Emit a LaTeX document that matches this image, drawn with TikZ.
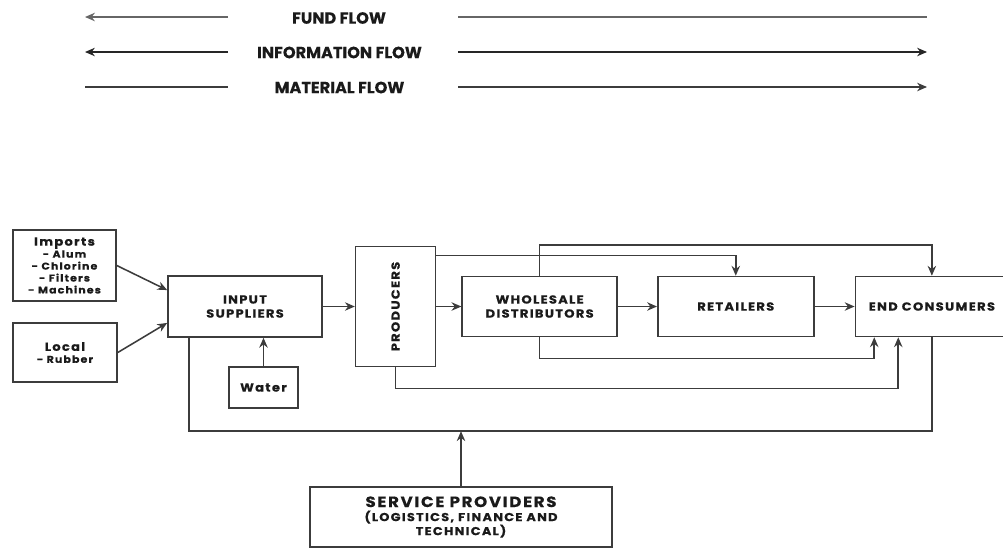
\documentclass[tikz,border=0pt]{standalone}
\usepackage{fontspec}
\setsansfont{Poppins}
\newfontfamily\legfont[FakeBold=0.3]{Poppins}
\newfontfamily\boxfont[FakeStretch=1.12, LetterSpace=11, FakeBold=0.4]{Poppins}
\usepackage{xcolor}
\usepackage{tikz}
\usetikzlibrary{shapes.geometric, arrows, arrows.meta, positioning, fit}

\definecolor{linegray}{HTML}{3C3C3C}
\definecolor{textdark}{HTML}{1A1A1A}
\newcommand{\itemsize}{\fontsize{7}{8.5}\selectfont}
\newcommand{\subsize}{\fontsize{8.2}{9.5}\selectfont}

\begin{document}
\begin{tikzpicture}[
    x=0.025cm, y=-0.025cm,
    box/.style={rectangle, draw=linegray, line width=1.1pt, align=center, text=textdark,
        inner sep=2pt, font=\boxfont\bfseries\fontsize{8.3}{10}\selectfont},
    legend/.style={text=textdark, font=\legfont\bfseries\fontsize{11.5}{14}\selectfont},
    line/.style={draw=linegray, line width=1.1pt},
    arrow/.style={-{Stealth[length=7pt, width=6pt]}, draw=linegray, line width=1.1pt}
]
    \useasboundingbox (0,0) rectangle (1003,548);

    % Legend
    \node[legend] (fund) at (339,18) {FUND FLOW};
    \node[legend] (info) at (339.5,52.5) {INFORMATION FLOW};
    \node[legend] (mat) at (339.5,87.5) {MATERIAL FLOW};
    \foreach \n/\y in {fund/17, info/52, mat/87} {
        \coordinate (\n a) at (85,\y);
        \coordinate (\n b) at (228,\y);
        \coordinate (\n c) at (458,\y);
        \coordinate (\n d) at (927,\y);
    }
    \draw[arrow, line width=1.5pt, draw=black!60] (fundb) -- (funda);
    \draw[line, line width=1.5pt, draw=black!60] (fundc) -- (fundd);
    \draw[arrow, draw=black!85] (infob) -- (infoa);
    \draw[arrow, draw=black!85] (infoc) -- (infod);
    \draw[line] (mata) -- (matb);
    \draw[arrow] (matc) -- (matd);

    % Main chain
    \node[box, minimum width=3.85cm, minimum height=1.525cm] (inp) at (245,306.5) {INPUT\\SUPPLIERS};
    \node[box, minimum width=2cm, minimum height=3cm, right=0.8cm of inp] (prod) {\rotatebox{90}{PRODUCERS}};
    \node[box, minimum width=3.875cm, minimum height=1.5cm, right=0.625cm of prod] (whole) {WHOLESALE\\DISTRIBUTORS};
    \node[box, minimum width=3.9cm, minimum height=1.5cm, right=0.975cm of whole] (ret) {RETAILERS};
    \node[box, minimum width=3.825cm, minimum height=1.5cm, right=1cm of ret] (cons) {END CONSUMERS};

    % Inputs
    \node[box, minimum width=2.575cm, minimum height=1.775cm] (imp) at (64.5,265.5)
        {Imports\\[-1.5pt]\itemsize - Alum\\[-1.5pt]\itemsize - Chlorine\\[-1.5pt]\itemsize - Filters\\[-1.5pt]\itemsize - Machines};
    \node[box, minimum width=2.6cm, minimum height=1.475cm] (loc) at (65,352.5) {Local\\[-1.5pt]\itemsize - Rubber};
    \node[box, minimum width=1.725cm, minimum height=1.025cm] (wat) at (263.5,387.5) {Water};
    \node[box, minimum width=7.55cm, minimum height=1.5cm, font=\boxfont\bfseries\fontsize{10.6}{12}\selectfont] (serv) at (461,517)
        {SERVICE PROVIDERS\\[-2pt]\subsize (LOGISTICS, FINANCE AND\\[-2pt]\subsize TECHNICAL)};
    \coordinate (bus) at ([yshift=1.375cm]serv.north);

    % Arrows
    \draw[arrow] (imp.east) -- ([yshift=0.41cm]inp.west);
    \draw[arrow] (loc.east) -- ([yshift=-0.41cm]inp.west);
    \draw[arrow] (wat) -- (wat |- inp.south);
    \draw[arrow] (inp) -- (prod);
    \draw[arrow] (prod) -- (whole);
    \draw[arrow] (whole) -- (ret);
    \draw[arrow] (ret) -- (cons);
    \draw[arrow] ([yshift=-0.25cm]prod.north east) -| (ret.north);
    \draw[arrow] (whole.north) -- ++(0,-31) -| (cons.north);
    \draw[arrow] (whole.south) -- ++(0,21) -| ([xshift=-1.44cm]cons.south);
    \draw[arrow] (prod.south) -- ++(0,21) -| ([xshift=-0.84cm]cons.south);
    \draw[line] ([xshift=0.55cm]inp.south west) |- (bus) -| (cons.south);
    \draw[arrow] (serv) -- (bus);
\end{tikzpicture}
\end{document}
